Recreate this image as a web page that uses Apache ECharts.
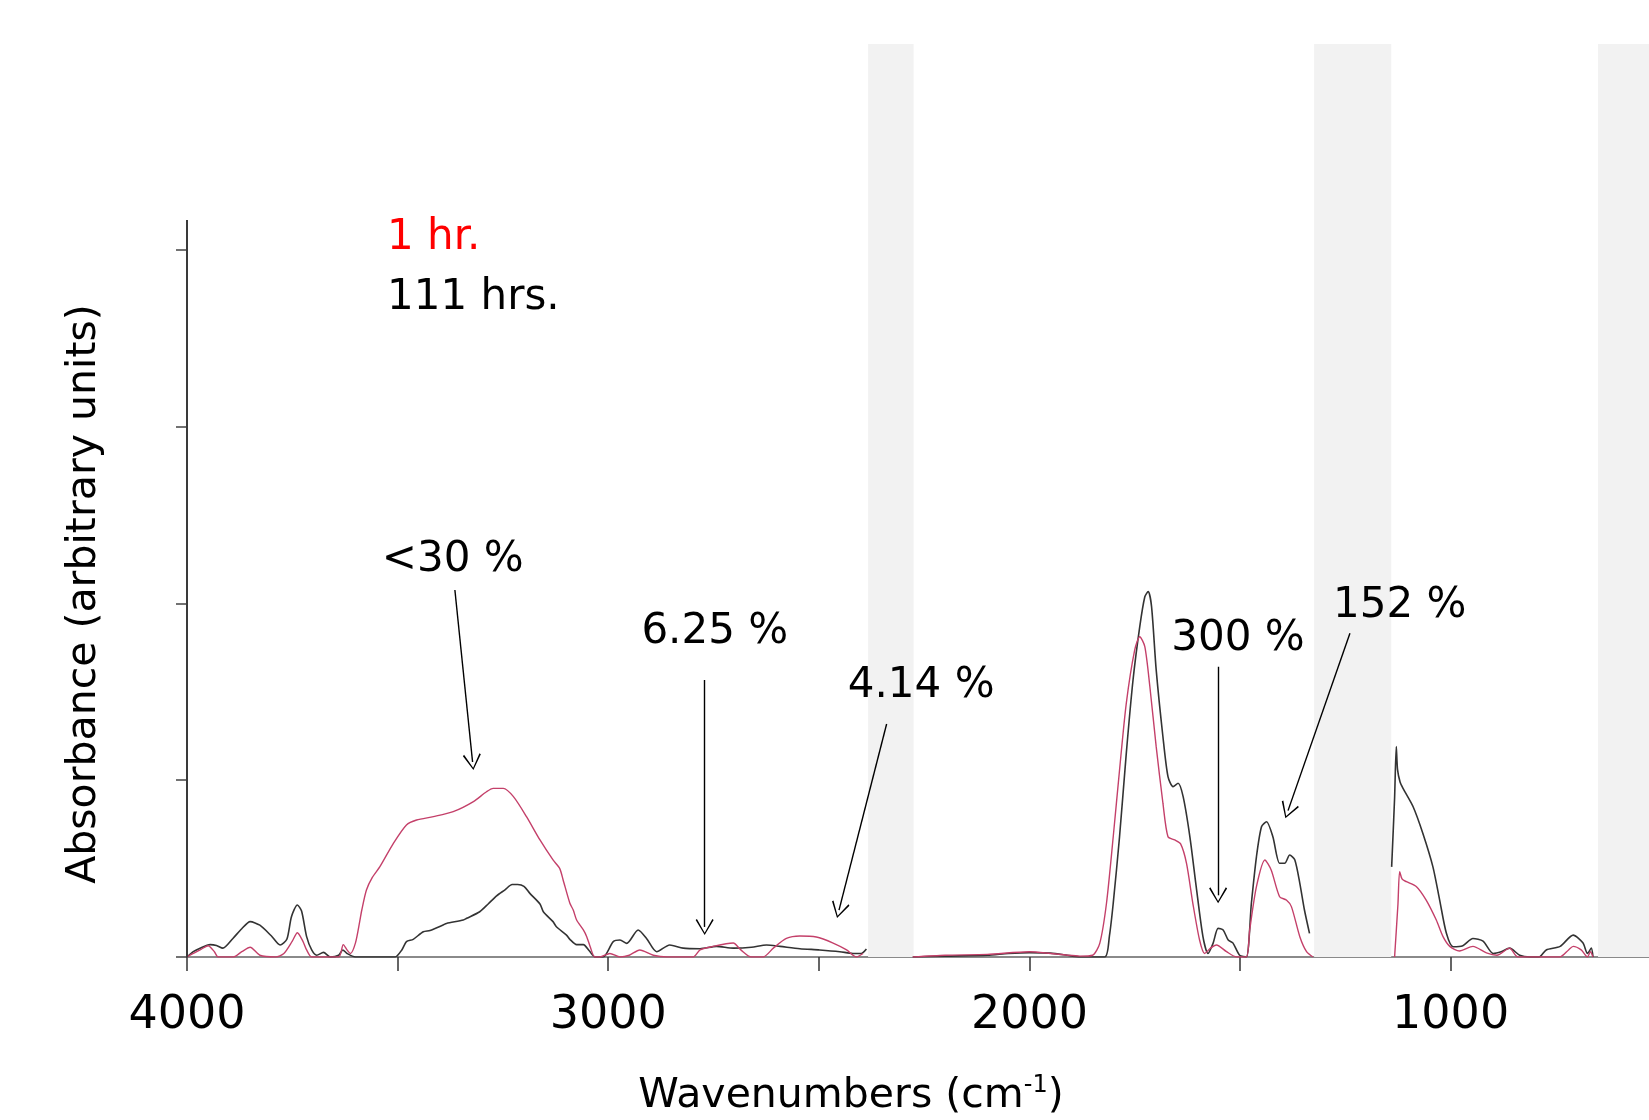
<!DOCTYPE html>
<html>
<head>
<meta charset="utf-8">
<title>FTIR absorbance spectra</title>
<script src="https://cdn.jsdelivr.net/npm/echarts@6/dist/echarts.min.js"></script>
<style>
  html, body { margin: 0; padding: 0; background: #ffffff; }
  #chart { width: 1649px; height: 1120px; }
</style>
</head>
<body>
<div id="chart"></div>
<script>
// Absorbance spectra, [wavenumber (cm-1), absorbance (arbitrary units)]; null breaks the trace
const spectrum111h = [
  [4000,0],[3985,0.03],[3969,0.05],[3945,0.07],[3930,0.065],[3915,0.05],[3891,0.105],[3870,0.16],
  [3850,0.20],[3827,0.18],[3800,0.12],[3779,0.068],[3763,0.10],[3752,0.228],[3738,0.294],[3728,0.26],
  [3716,0.115],[3704,0.04],[3692,0.01],[3676,0.026],[3660,0],[3640,0.01],[3630,0.04],[3620,0.02],
  [3600,0],[3560,0],[3506,0],[3490,0.04],[3479,0.087],[3463,0.10],[3439,0.143],[3423,0.15],
  [3392,0.181],[3384,0.19],[3344,0.209],[3336,0.219],[3305,0.256],[3285,0.30],[3265,0.346],[3245,0.38],
  [3228,0.41],[3215,0.41],[3200,0.40],[3186,0.36],[3162,0.30],[3154,0.256],[3131,0.20],[3123,0.171],
  [3099,0.124],[3091,0.10],[3075,0.07],[3059,0.07],[3045,0.035],[3031,0],[3012,0],[2988,0.087],
  [2972,0.096],[2956,0.077],[2929,0.153],[2909,0.105],[2885,0.03],[2854,0.068],[2822,0.05],[2782,0.047],
  [2743,0.06],[2703,0.05],[2660,0.055],[2624,0.068],[2592,0.06],[2545,0.047],[2498,0.04],[2450,0.03],
  [2419,0.02],[2399,0.02],[2387,0.045],
  [2330,null],
  [2277,0],[2200,0.005],[2100,0.01],[2050,0.02],[2000,0.025],[1950,0.022],[1910,0.01],[1880,0],
  [1821,0],[1810,0.12],[1801,0.304],[1786,0.68],[1770,1.152],[1754,1.567],[1738,1.869],[1726,2.038],
  [1718,2.067],[1710,1.982],[1699,1.624],[1683,1.246],[1671,1.02],[1659,0.964],[1647,0.983],[1635,0.907],
  [1619,0.68],[1604,0.398],[1588,0.115],[1576,0.02],[1564,0.077],[1552,0.162],[1540,0.153],[1528,0.096],
  [1517,0.08],[1501,0.01],[1485,0],[1473,0.304],[1461,0.567],[1449,0.737],[1437,0.765],[1422,0.68],
  [1406,0.53],[1394,0.53],[1382,0.577],[1370,0.55],[1358,0.417],[1347,0.266],[1335,0.134],
  [1240,null],
  [1140,0.51],[1133,0.9],[1129,1.19],[1126,1.06],[1120,0.99],[1113,0.954],[1089,0.85],[1066,0.70],
  [1042,0.51],[1026,0.322],[1010,0.134],[994,0.058],[971,0.064],[947,0.105],[923,0.09],[899,0.02],
  [880,0.03],[860,0.05],[836,0.01],[812,0],[790,0],[773,0.04],[740,0.06],[709,0.124],
  [686,0.08],[675,0.02],[666,0.05],[662,0]
];

const spectrum1h = [
  [4000,0],[3985,0.02],[3969,0.04],[3950,0.064],[3935,0.03],[3926,0],[3890,0],[3870,0.03],
  [3850,0.055],[3827,0.01],[3790,0],[3770,0.02],[3750,0.09],[3738,0.137],[3725,0.09],[3716,0.04],
  [3704,0],[3640,0],[3629,0.07],[3620,0.04],[3612,0.02],[3600,0.08],[3590,0.2],[3585,0.266],
  [3574,0.379],[3560,0.45],[3542,0.511],[3510,0.643],[3479,0.747],[3455,0.775],[3415,0.794],[3368,0.822],
  [3320,0.879],[3289,0.935],[3273,0.954],[3249,0.954],[3225,0.907],[3194,0.794],[3162,0.662],[3131,0.549],
  [3115,0.50],[3107,0.436],[3091,0.304],[3083,0.266],[3075,0.209],[3059,0.153],[3051,0.115],[3043,0.06],
  [3032,0],[3020,0],[2996,0.02],[2972,0],[2950,0.01],[2925,0.04],[2893,0.01],[2860,0],
  [2798,0],[2782,0.04],[2751,0.06],[2720,0.075],[2703,0.079],[2685,0.04],[2660,0],[2632,0],
  [2608,0.05],[2577,0.105],[2545,0.119],[2506,0.113],[2466,0.079],[2434,0.04],[2411,0],[2395,0.02],
  [2330,null],
  [2277,0],[2200,0.01],[2100,0.015],[2000,0.03],[1950,0.02],[1910,0.01],[1880,0.005],[1850,0.01],
  [1833,0.077],[1817,0.304],[1801,0.68],[1786,1.058],[1770,1.435],[1750,1.737],[1738,1.812],[1726,1.756],
  [1714,1.529],[1699,1.19],[1683,0.87],[1671,0.68],[1655,0.662],[1641,0.64],[1627,0.53],[1612,0.304],
  [1596,0.096],[1584,0.02],[1570,0.05],[1556,0.068],[1532,0.03],[1508,0],[1485,0],[1477,0.153],
  [1461,0.398],[1441,0.549],[1426,0.492],[1406,0.341],[1390,0.322],[1378,0.285],[1358,0.115],[1342,0.03],
  [1327,0],
  [1240,null],
  [1133,0],[1125,0.3],[1121,0.483],[1115,0.44],[1105,0.426],[1081,0.398],[1058,0.322],[1034,0.209],
  [1018,0.115],[1002,0.06],[979,0.034],[947,0.06],[915,0.023],[890,0.01],[860,0.05],[840,0],
  [741,0],[720,0.04],[709,0.06],[690,0.04],[675,0],[668,0.03],[662,0]
];

// Spectral windows left blank (wavenumber ranges)
const maskedRanges = [[2383, 2275], [1324, 1141], [650, 529]];

// Tick values
const xTickValues = [4000, 3500, 3000, 2500, 2000, 1500, 1000];
const xLabelValues = [4000, 3000, 2000, 1000];
const yTickValues = [0, 1, 2, 3, 4];

// Change annotations: label text, label anchor [wn, abs], arrow start, arrow end
const noteTexts = ['<30 %', '6.25 %', '4.14 %', '300 %', '152 %'];
const noteAnchors = [[3369, 2.245], [2747, 1.840], [2257, 1.532], [1505, 1.801], [1121, 1.987]];
const arrowStarts = [[3364, 2.076], [2771, 1.567], [2339, 1.318], [1552, 1.642], [1239, 1.831]];
const arrowEnds = [[3322, 1.103], [2771, 0.170], [2452, 0.265], [1552, 0.349], [1386, 0.828]];

const X_MIN = 529, X_MAX = 4000;
const Y_MAX = 5.165, Y_AXIS_TOP = 4.17;
const FONT = '"DejaVu Sans", Verdana, sans-serif';
const CHEVRON = 'path://M5,0 L10,9 L9.3,9.7 L5,1.4 L0.7,9.7 L0,9 Z';

const chart = echarts.init(document.getElementById('chart'), null, { renderer: 'canvas' });

const option = {
  backgroundColor: '#ffffff',
  animation: false,
  grid: { left: 187, right: 0, top: 44, bottom: 163, containLabel: false },
  xAxis: {
    type: 'value', inverse: true, min: X_MIN, max: X_MAX,
    splitLine: { show: false },
    axisLine: { show: true, lineStyle: { color: '#8a8a8a', width: 2 } },
    axisTick: { show: true, customValues: xTickValues, length: 14, lineStyle: { color: '#333', width: 1.5 } },
    axisLabel: {
      show: true, customValues: xLabelValues, margin: 36,
      formatter: v => String(v),
      color: '#000', fontSize: 46, fontFamily: FONT
    }
  },
  yAxis: {
    type: 'value', min: 0, max: Y_MAX,
    splitLine: { show: false },
    axisLine: { show: false },
    axisTick: { show: true, customValues: yTickValues, length: 11, lineStyle: { color: '#444', width: 1.5 } },
    axisLabel: { show: false }
  },
  graphic: [
    { type: 'text', left: 387, top: 217, style: { text: '1 hr.', fill: '#ff0000', font: '42px ' + FONT } },
    { type: 'text', left: 387, top: 277, style: { text: '111 hrs.', fill: '#000000', font: '42px ' + FONT } },
    {
      type: 'text', x: 851, y: 1096,
      style: {
        text: 'Wavenumbers (cm{sup|-1})',
        fill: '#000', font: '41px ' + FONT, align: 'center', verticalAlign: 'middle',
        rich: { sup: { fontSize: 24, fontFamily: FONT, fill: '#000', verticalAlign: 'top', padding: [0, 0, 20, 0] } }
      }
    },
    {
      type: 'text', x: 84, y: 594, rotation: Math.PI / 2,
      style: { text: 'Absorbance (arbitrary units)', fill: '#000', font: '41px ' + FONT, align: 'center', verticalAlign: 'middle' }
    }
  ],
  series: [
    {
      name: 'masked',
      type: 'line', data: [], z: -1, silent: true,
      markArea: {
        silent: true,
        itemStyle: { color: '#f2f2f2' },
        data: maskedRanges.map(r => [{ xAxis: r[0], yAxis: 0 }, { xAxis: r[1], yAxis: Y_MAX }])
      }
    },
    {
      name: '111 hrs.',
      type: 'line', data: spectrum111h, showSymbol: false, smooth: 0.25, connectNulls: false,
      lineStyle: { color: '#333333', width: 1.6 }, itemStyle: { color: '#333333' }, z: 3
    },
    {
      name: '1 hr.',
      type: 'line', data: spectrum1h, showSymbol: false, smooth: 0.25, connectNulls: false,
      lineStyle: { color: '#c4406a', width: 1.4 }, itemStyle: { color: '#c4406a' }, z: 4
    },
    {
      name: 'notes',
      type: 'line', data: [], clip: false, z: 5, silent: true,
      markLine: {
        silent: true, animation: false,
        symbol: ['none', 'none'],
        label: { show: false },
        lineStyle: { color: '#000', width: 1.4, type: 'solid' },
        data: [
          [{ coord: [X_MAX, 0], symbol: 'none' }, { coord: [X_MAX, Y_AXIS_TOP], symbol: 'none', lineStyle: { color: '#3a3a3a', width: 2 } }]
        ].concat(arrowStarts.map((s, i) => [
          { coord: s, symbol: 'none' },
          { coord: arrowEnds[i], symbol: CHEVRON, symbolSize: [18, 16] }
        ]))
      },
      markPoint: {
        silent: true, symbol: 'circle', symbolSize: 1,
        itemStyle: { color: 'rgba(0,0,0,0)' },
        label: { show: true, position: 'inside', color: '#000', fontSize: 42, fontFamily: FONT },
        data: noteAnchors.map((a, i) => ({ coord: a, value: noteTexts[i], label: { formatter: noteTexts[i] } }))
      }
    }
  ]
};

chart.setOption(option);
</script>
</body>
</html>
